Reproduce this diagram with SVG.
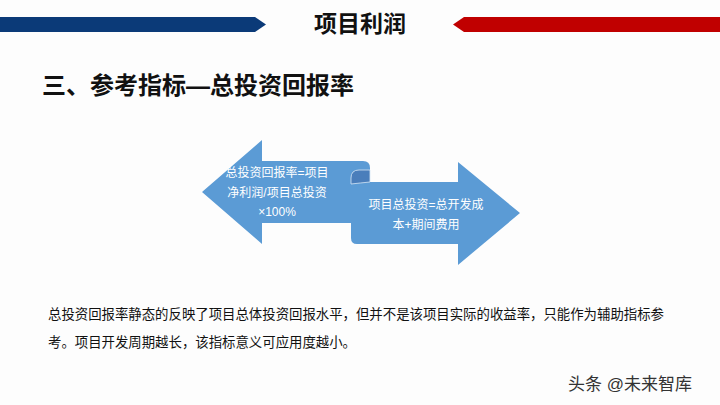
<svg xmlns="http://www.w3.org/2000/svg" width="720" height="405" viewBox="0 0 720 405">
<style>
.cjk{font-family:"Liberation Sans","Noto Sans CJK SC",sans-serif}
.title{font-size:23px;font-weight:bold;fill:#111}
.sub{font-size:24px;font-weight:bold;fill:#111}
.lbl{font-size:12px;fill:#ffffff}
.para{font-size:13.4px;fill:#111}
.wm{font-size:17px;fill:#333}
.arrowfill{fill:#5b9bd5}
</style>
<rect x="0" y="0" width="720" height="405" fill="#fdfdfd"/>
<g id="header">
<polygon points="0,17 255,17 266,24.5 255,32 0,32" fill="#0b3a78"/>
<polygon points="720,17 464,17 453,24.5 464,32 720,32" fill="#c00000"/>
<text class="cjk title" x="360" y="32" text-anchor="middle">项目利润</text>
</g>
<g id="subtitle">
<text class="cjk sub" x="42" y="94">三、参考指标—总投资回报率</text>
</g>
<g id="arrows">
<path class="arrowfill" d="M202,192 L262,140 L262,161 L363,161 Q370,161 370,168 L370,182 L458,182 L458,162 L520,213 L458,265 L458,244 L357,244 Q351,244 351,238 L351,223 L262,223 L262,244 Z"/>
<path d="M351,184 L351,178 Q351,170 359,170 L370,170 L370,182 Q360,183 351,184 Z" fill="#4a7ebb" stroke="#d6e6f5" stroke-width="0.8"/>
</g>
<g id="left-label">
<text class="cjk lbl" x="277" y="177" text-anchor="middle">总投资回报率=项目</text>
<text class="cjk lbl" x="277" y="197" text-anchor="middle">净利润/项目总投资</text>
<text class="cjk lbl" x="277" y="216" text-anchor="middle">×100%</text>
</g>
<g id="right-label">
<text class="cjk lbl" x="426" y="209" text-anchor="middle">项目总投资=总开发成</text>
<text class="cjk lbl" x="426" y="229" text-anchor="middle">本+期间费用</text>
</g>
<g id="paragraph">
<text class="cjk para" x="48" y="319">总投资回报率静态的反映了项目总体投资回报水平，但并不是该项目实际的收益率，只能作为辅助指标参</text>
<text class="cjk para" x="48" y="347">考。项目开发周期越长，该指标意义可应用度越小。</text>
</g>
<g id="watermark">
<text class="cjk wm" x="568" y="390">头条 @未来智库</text>
</g>
</svg>
